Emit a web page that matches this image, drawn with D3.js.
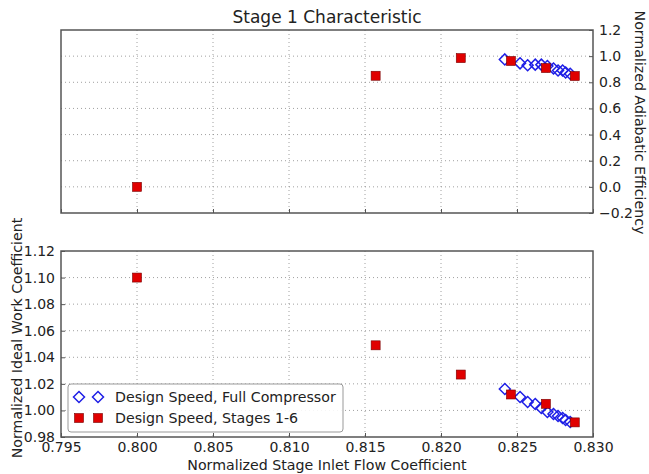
<!DOCTYPE html>
<html><head><meta charset="utf-8">
<script src="https://cdn.jsdelivr.net/npm/d3@7"></script>
<style>
body{margin:0;background:#fff;}
text{font-family:"DejaVu Sans",sans-serif;fill:#222;}
</style></head>
<body><svg id="c" width="649" height="474"></svg>
<script>
// Data
const fullX   = [0.8242,0.8252,0.8257,0.8262,0.8266,0.8270,0.8274,0.8277,0.8280,0.8282,0.8285];
const fullEff = [0.975,0.945,0.930,0.935,0.935,0.925,0.905,0.890,0.890,0.875,0.865];
const fullWork= [1.0161,1.0101,1.0063,1.0048,1.0018,0.9988,0.9973,0.9958,0.9943,0.9928,0.9913];
const stgX    = [0.8000,0.8157,0.8213,0.8246,0.8269,0.8288];
const stgEff  = [0.0,0.85,0.985,0.963,0.909,0.848];
const stgWork = [1.100,1.049,1.027,1.012,1.005,0.991];
const xTicks  = [0.795,0.800,0.805,0.810,0.815,0.820,0.825,0.830];
const effTicks= [-0.2,0.0,0.2,0.4,0.6,0.8,1.0,1.2];
const workTicks=[0.98,1.00,1.02,1.04,1.06,1.08,1.10,1.12];
const seriesNames=["Design Speed, Full Compressor","Design Speed, Stages 1-6"];

const svg=d3.select("#c");
const L=61,R=593,T1=30,B1=213,T2=251,B2=437;
const x=d3.scaleLinear().domain([0.795,0.830]).range([L,R]);
const y1=d3.scaleLinear().domain([-0.2,1.2]).range([B1,T1]);
const y2=d3.scaleLinear().domain([0.98,1.12]).range([B2,T2]);
const spine="#555";
const FS=14;

function panel(y,top,bot,ticks,fmt,right,showX){
  const g=svg.append("g");
  g.selectAll(".gx").data(xTicks.slice(1,-1)).enter().append("line")
    .attr("x1",d=>x(d)).attr("x2",d=>x(d)).attr("y1",top).attr("y2",bot)
    .attr("stroke","#888").attr("stroke-width",0.8).attr("stroke-dasharray","1,3");
  g.selectAll(".gy").data(ticks.slice(1,-1)).enter().append("line")
    .attr("x1",L).attr("x2",R).attr("y1",d=>y(d)).attr("y2",d=>y(d))
    .attr("stroke","#888").attr("stroke-width",0.8).attr("stroke-dasharray","1,3");
  const ya=right?d3.axisRight(y):d3.axisLeft(y);
  ya.tickValues(ticks).tickFormat(fmt).tickSizeInner(-4).tickSizeOuter(0).tickPadding(6);
  const yg=g.append("g").attr("transform",`translate(${right?R:L},0)`).call(ya);
  yg.select(".domain").remove();
  yg.selectAll("text").attr("font-size",FS).attr("font-family","DejaVu Sans").attr("fill","#222");
  yg.selectAll("line").attr("stroke",spine);
  const xa=d3.axisBottom(x).tickValues(xTicks).tickFormat(showX?d3.format(".3f"):"").tickSizeInner(-4).tickSizeOuter(0).tickPadding(5);
  const xg=g.append("g").attr("transform",`translate(0,${bot})`).call(xa);
  xg.select(".domain").remove();
  xg.selectAll("text").attr("font-size",FS).attr("font-family","DejaVu Sans").attr("fill","#222");
  xg.selectAll("line").attr("stroke",spine);
  g.append("rect").attr("x",L).attr("y",top).attr("width",R-L).attr("height",bot-top)
    .attr("fill","none").attr("stroke",spine).attr("stroke-width",1.5);
  return g;
}
const g1=panel(y1,T1,B1,effTicks,d=>d===-0.2?"\u22120.2":d3.format(".1f")(d),true,false);
const g2=panel(y2,T2,B2,workTicks,d3.format(".2f"),false,true);

function diamond(g,cx,cy){
  const s=5.5;
  g.append("path").attr("d",`M${cx},${cy-s}L${cx+s},${cy}L${cx},${cy+s}L${cx-s},${cy}Z`)
   .attr("fill","none").attr("stroke","#1f1fe6").attr("stroke-width",1.5);
}
function square(g,cx,cy){
  const s=4.5;
  g.append("rect").attr("x",cx-s).attr("y",cy-s).attr("width",2*s).attr("height",2*s)
   .attr("fill","#e00000").attr("stroke","#700").attr("stroke-width",0.6);
}
fullX.forEach((v,i)=>{diamond(g1,x(v),y1(fullEff[i]));diamond(g2,x(v),y2(fullWork[i]));});
stgX.forEach((v,i)=>{square(g1,x(v),y1(stgEff[i]));square(g2,x(v),y2(stgWork[i]));});

svg.append("text").attr("x",(L+R)/2).attr("y",23).attr("text-anchor","middle").attr("font-size",17).text("Stage 1 Characteristic");
svg.append("text").attr("x",(L+R)/2).attr("y",470).attr("text-anchor","middle").attr("font-size",14.2).text("Normalized Stage Inlet Flow Coefficient");
svg.append("text").attr("transform",`translate(635,${(T1+B1)/2+1}) rotate(90)`).attr("text-anchor","middle").attr("font-size",14.2).text("Normalized Adiabatic Efficiency");
svg.append("text").attr("transform",`translate(22,338) rotate(-90)`).attr("text-anchor","middle").attr("font-size",14.2).text("Normalized Ideal Work Coefficient");

const lg=svg.append("g");
lg.append("rect").attr("x",68).attr("y",384).attr("width",275).attr("height",48).attr("rx",3)
  .attr("fill","#fff").attr("fill-opacity",0.9).attr("stroke","#999").attr("stroke-width",1);
diamond(lg,79,397);diamond(lg,98,397);
square(lg,79,418);square(lg,98,418);
lg.append("text").attr("x",115).attr("y",402).attr("font-size",14.2).text(seriesNames[0]);
lg.append("text").attr("x",115).attr("y",423).attr("font-size",14.2).text(seriesNames[1]);
</script></body></html>
